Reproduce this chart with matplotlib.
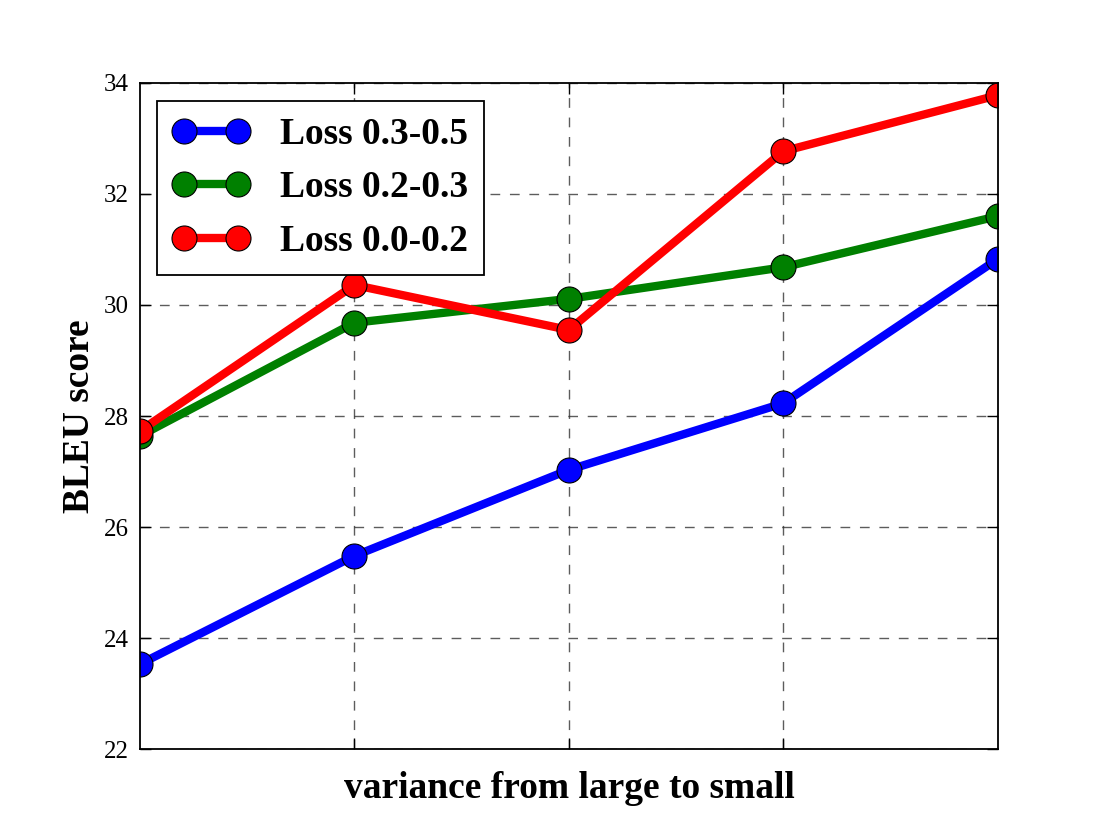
import matplotlib
matplotlib.use("Agg")
import matplotlib.pyplot as plt

# data
x_pos = [0, 1, 2, 3, 4]
loss_03_05 = [23.53, 25.48, 27.03, 28.23, 30.83]
loss_02_03 = [27.64, 29.68, 30.11, 30.68, 31.60]
loss_00_02 = [27.73, 30.36, 29.55, 32.77, 33.78]
labels = ["Loss 0.3-0.5", "Loss 0.2-0.3", "Loss 0.0-0.2"]
y_ticks = [22, 24, 26, 28, 30, 32, 34]

plt.rcParams['font.family'] = ['Liberation Serif', 'DejaVu Serif']

fig = plt.figure(figsize=(11.1, 8.33), dpi=100)
ax = fig.add_axes([0.126, 0.1008, 0.773, 0.7996])

series = [loss_03_05, loss_02_03, loss_00_02]
colors = ['blue', 'green', 'red']
for vals, col, lab in zip(series, colors, labels):
    ax.plot(x_pos, vals, color=col, lw=6, marker='o', markersize=18,
            markerfacecolor=col, markeredgecolor='black', markeredgewidth=0.8,
            label=lab)

ax.set_xlim(0, 4)
ax.set_ylim(22, 34)
ax.set_yticks(y_ticks)
ax.set_xticks([1, 2, 3])
ax.set_xticklabels([])
ax.tick_params(direction='in', top=True, right=True, length=8, width=1,
               labelsize=18, pad=8)
ax.grid(True, color='#333333', linestyle=(0, (7, 7)), linewidth=1.0, alpha=0.8)
for sp in ax.spines.values():
    sp.set_linewidth(1.3)

ax.set_ylabel("BLEU score", fontsize=27, fontweight='bold', labelpad=5)
ax.set_xlabel("variance from large to small", fontsize=27, fontweight='bold',
              labelpad=8)

leg = ax.legend(loc='upper left', numpoints=2, fancybox=False, framealpha=1,
                edgecolor='black', prop={'size': 27, 'weight': 'bold'},
                borderpad=0.42, labelspacing=0.5, handlelength=2.05,
                handletextpad=0.8, borderaxespad=0,
                bbox_to_anchor=(0.02, 0.973))
leg.get_frame().set_linewidth(1.3)

fig.savefig("out.png", dpi=100)
